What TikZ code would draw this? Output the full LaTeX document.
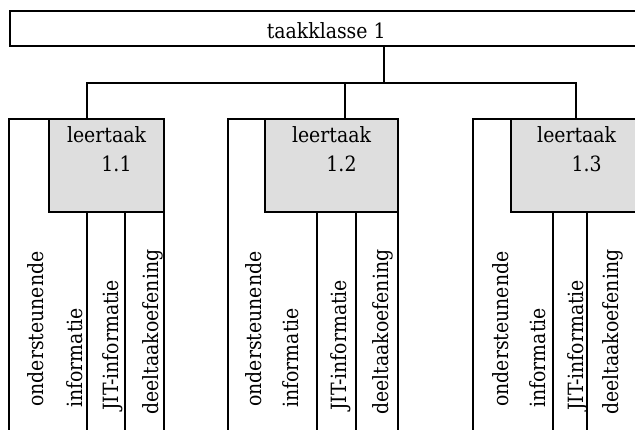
\documentclass[tikz,border=0pt]{standalone}
\usepackage{fontspec}
\setmainfont{DejaVu Serif Condensed}
\definecolor{taakgrey}{RGB}{222,222,222}
\tikzset{
  frame/.style={line width=2pt},
  kolomtekst/.style={rotate=90, anchor=base west, inner sep=0pt},
  leertekst/.style={anchor=base, inner sep=0pt},
}
\begin{document}
\begin{tikzpicture}[x=1pt, y=-1pt, font=\fontsize{21}{25}\selectfont]
      \useasboundingbox (0,0) rectangle (635,430);
      \clip (0,0) rectangle (635,430);
      % Draw the task class on top
      \node[frame, draw, minimum width=633pt, minimum height=35pt, inner sep=0pt] (klasse) at (326.2,28.5) {};
      \node[leertekst] (klassetekst) at (326.2,39) {taakklasse 1};
      \coordinate (split) at (384,83);
      % Draw the learning tasks with their columns
      \foreach \i/\xl/\xg/\xa/\xb/\xr/\xd/\ta/\tb/\tc/\te/\lc in
          {1/9.3/49/87/125/164/87/43/82/118/158/106.5,
           2/227.7/265/317/356/398/345/261/298/346/388/331.5,
           3/472.7/510.7/553/586.5/642.7/576/508/545/583/618/576.7}{
        \coordinate (drop\i) at (\xd,83);
        \coordinate (top\i) at (\xd,119);
        \filldraw[frame, fill=taakgrey] (\xg,119) rectangle (\xr,212);
        \draw[frame] (\xl,440) -- (\xl,119) -- (\xg,119);
        \draw[frame] (\xr,212) -- (\xr,440);
        \draw[frame] (\xa,212) -- (\xa,440);
        \draw[frame] (\xb,212) -- (\xb,440);
        \node[leertekst] (lt\i) at (\lc,143) {leertaak};
        \node[leertekst] (nr\i) at (\lc+10,172) {1.\i};
        \node[kolomtekst] (ond\i) at (\ta,407) {ondersteunende};
        \node[kolomtekst] (inf\i) at (\tb,408) {informatie};
        \node[kolomtekst] (jit\i) at (\tc,411) {JIT-informatie};
        \node[kolomtekst] (deel\i) at (\te,415) {deeltaakoefening};
      }
      % Connect the class to the tasks
      \draw[frame] (klasse.south -| split) -- (split);
      \draw[frame] (top1) -- (drop1) -- (drop3) -- (top3);
      \draw[frame] (drop2) -- (top2);
    \end{tikzpicture}
\end{document}
